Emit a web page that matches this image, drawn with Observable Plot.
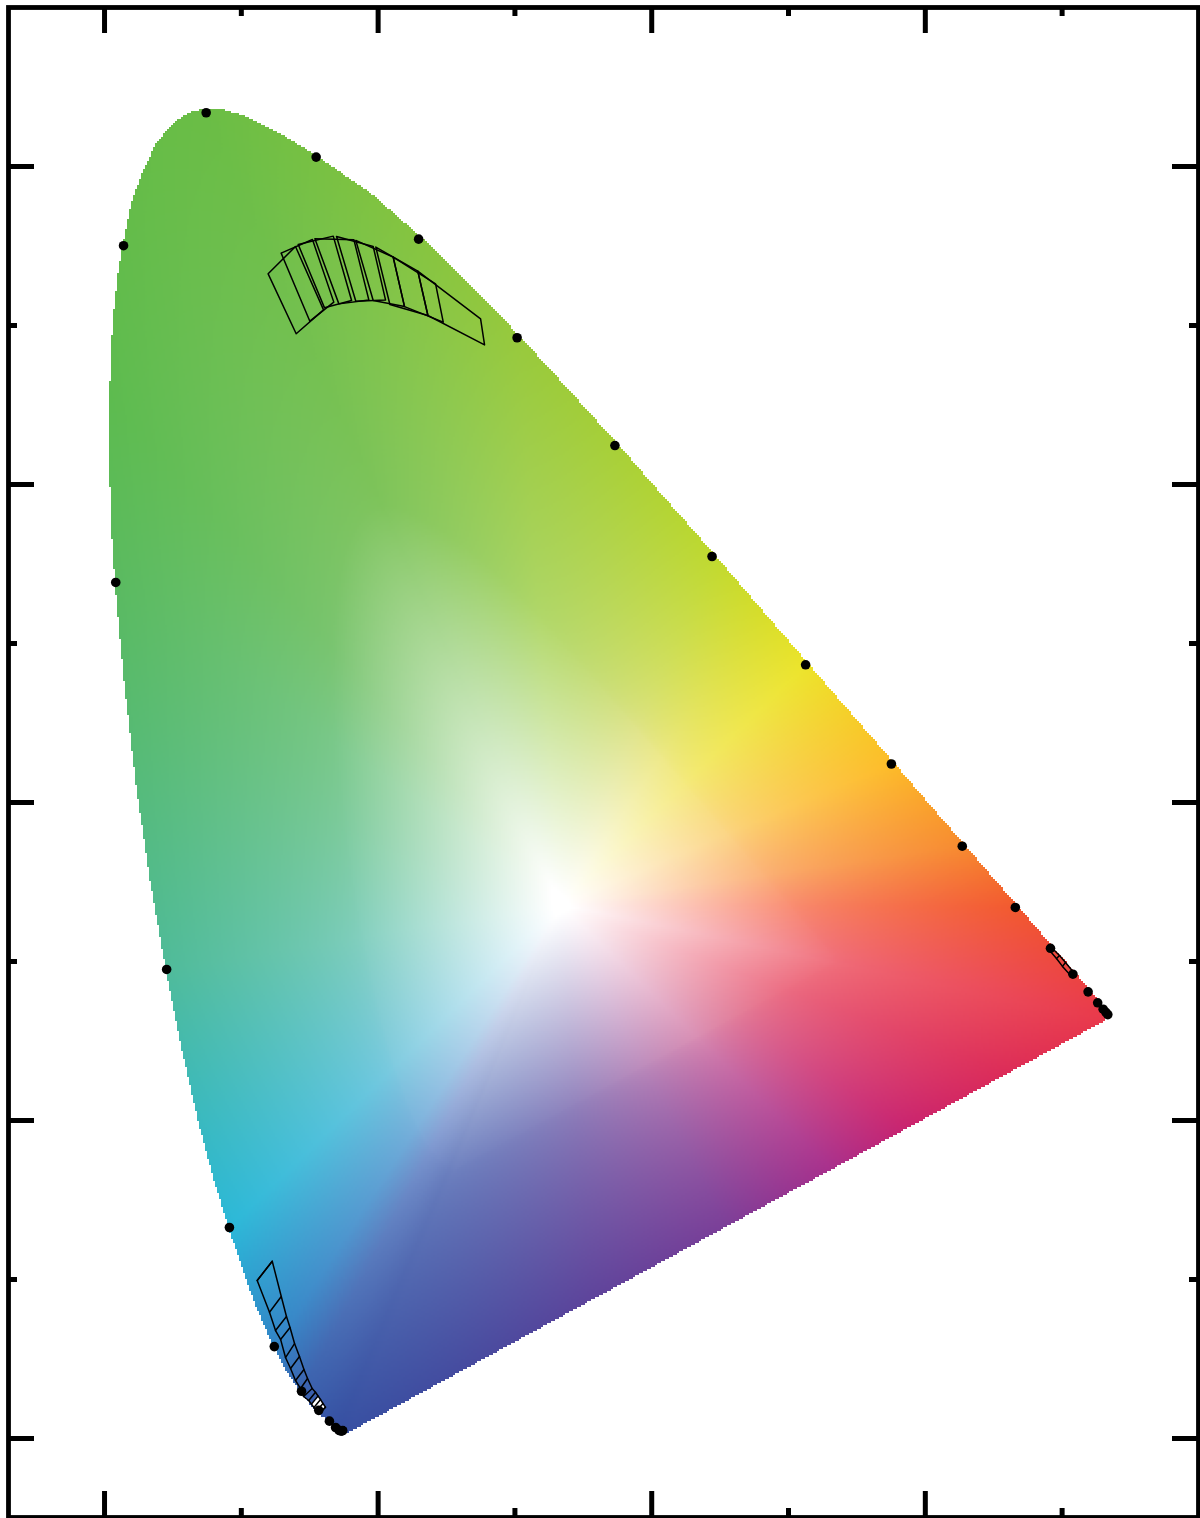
<!DOCTYPE html>
<html><head><meta charset="utf-8">
<style>html,body{margin:0;padding:0;background:#fff}svg{display:block}</style>
<script src="https://cdn.jsdelivr.net/npm/d3@7"></script>
<script src="https://cdn.jsdelivr.net/npm/@observablehq/plot@0.6"></script>
</head><body><div id="chart"></div>
<script>
// Spectral locus (5 nm steps 380-680)
const locusX = [.1741,.1740,.1738,.1736,.1733,.1730,.1726,.1721,.1714,.1703,.1689,.1669,.1644,.1611,.1566,.1510,.1440,.1355,.1241,.1096,.0913,.0687,.0454,.0235,.0082,.0039,.0139,.0389,.0743,.1142,.1547,.1929,.2296,.2658,.3016,.3373,.3731,.4087,.4441,.4788,.5125,.5448,.5752,.6029,.6270,.6482,.6658,.6801,.6915,.7006,.7079,.7140,.7190,.7230,.7260,.7283,.7300,.7311,.7320,.7327,.7334];
const locusY = [.0050,.0050,.0049,.0049,.0048,.0048,.0048,.0048,.0051,.0058,.0069,.0086,.0109,.0138,.0177,.0227,.0297,.0399,.0578,.0868,.1327,.2007,.2950,.4127,.5384,.6548,.7502,.8120,.8338,.8262,.8059,.7816,.7543,.7243,.6923,.6589,.6245,.5896,.5547,.5202,.4866,.4544,.4242,.3965,.3725,.3514,.3340,.3197,.3083,.2993,.2920,.2859,.2809,.2770,.2740,.2717,.2700,.2689,.2680,.2673,.2666];

// Outline of the coloured area
const areaX = [.1780,.1700,.1620,.1540,.1440,.1350,.1235,.1090,.0905,.0790,.0680,.0560,.0445,.0330,.0225,.0140,.0072,.0040,.0029,.0040,.0065,.0097,.0137,.0190,.0276,.0373,.0507,.0629,.0775,.0870,.1020,.1262,.1540,.1945,.2310,.2670,.3030,.3385,.3745,.4100,.4455,.4800,.5135,.5458,.5762,.6038,.6280,.6492,.6668,.6810,.6925,.7016,.7090,.7150,.7200,.7240,.7270,.7300,.7316];
const areaY = [.0035,.0060,.0115,.0165,.0280,.0385,.0565,.0855,.1315,.1640,.1995,.2450,.2940,.3500,.4115,.4750,.5375,.5800,.6340,.6800,.7100,.7346,.7535,.7767,.7964,.8143,.8279,.8342,.8365,.8355,.8315,.8215,.8068,.7828,.7553,.7252,.6932,.6598,.6255,.5905,.5557,.5212,.4876,.4554,.4252,.3975,.3735,.3524,.3350,.3207,.3093,.3003,.2930,.2869,.2819,.2780,.2750,.2700,.2629];

// Markers, every 10 nm along the locus (index step 2 of the locus table)
const markerIndex = d3.range(0, locusX.length, 2);

// Axis ticks
const xMajor = [0,.2,.4,.6], xMinor = [.1,.3,.5,.7];
const yMajor = [0,.2,.4,.6,.8], yMinor = [.1,.3,.5,.7];
const xMin = -0.0702, xMax = 0.7997, yMin = -0.0497, yMax = 0.9;

// Upper green patch: the top and bottom end of each cross edge
const edgeTopX = [.1196,.1291,.1396,.1416,.1520,.1538,.1672,.1696,.1823,.1837,.1964,.1983,.2110,.2290,.2420,.2749];
const edgeTopY = [.7325,.7455,.7497,.7509,.7541,.7545,.7562,.7560,.7539,.7535,.7497,.7493,.7430,.7342,.7262,.7042];
const edgeBotX = [.1401,.1501,.1601,.1608,.1676,.1713,.1806,.1837,.1932,.1964,.2054,.2086,.2193,.2364,.2476,.2778];
const edgeBotY = [.6948,.7027,.7098,.7111,.7147,.7136,.7157,.7153,.7161,.7157,.7161,.7132,.7119,.7063,.7021,.6878];
const greenFrom = [0,1,3,5,7,9,11,12,13];
const greenTo   = [2,4,6,8,10,12,13,14,15];

// Lower blue strip: rungs between its two long sides
const blueLX = [.1116,.1206,.1250,.1287,.1323,.1360,.1396,.1433,.1455,.1493,.1513,.1531,.1550,.1567];
const blueLY = [.0994,.0794,.0679,.0623,.0509,.0440,.0365,.0314,.0264,.0239,.0216,.0195,.0173,.0155];
const blueRX = [.1226,.1292,.1330,.1356,.1389,.1425,.1458,.1484,.1518,.1542,.1561,.1579,.1597,.1615];
const blueRY = [.1115,.0893,.0767,.0698,.0597,.0516,.0434,.0377,.0314,.0291,.0267,.0245,.0220,.0197];
const blueTipX = [.1513,.1561,.1615,.1567,.1513];
const blueTipY = [.0216,.0267,.0197,.0155,.0216];

// Red strip
const redLX = [.6915,.6959,.7003,.7069];
const redLY = [.3063,.3019,.2969,.2906];
const redRX = [.6937,.6981,.7025,.7091];
const redRY = [.3075,.3038,.2994,.2925];

// Colour field: white centre, then colours read along rays toward the boundary
const whiteX = .3333, whiteY = .3352;
const rayX = [.7334,.6658,.6270,.5752,.5125,.4788,.4441,.3016,.0743,.0039,.0082,.0454,.0913,.1241,.1440,.1700,.3550,.4500,.5300,.5800,.6600];
const rayY = [.2666,.3340,.3725,.4242,.4866,.5202,.5547,.6923,.8338,.6548,.5384,.2950,.1327,.0578,.0297,.0050,.0870,.1370,.1700,.1990,.2300];
const rayOuter = ["#e93a4a","#f2592e","#f78b2f","#fdbc28","#ece42a","#d5dd2a","#bfd92f","#97c93c","#6abd45","#5dbb4f","#5aba60","#4fbb9a","#2bb8d8","#3184c6","#3a62ae","#3650a2","#5e449b","#7b3f98","#a8308c","#c9246f","#dc2c58"];
const rayMiddle = ["#f0707c","#f98f75","#fbb37a","#fbd585","#f5ea80","#eee98a","#e0e48a","#b2d86c","#7fc45c","#7bc572","#7cc98c","#85d0c0","#80cbe0","#7cb2dc","#7e98d0","#6e82c0","#9484bd","#bd8cbc","#d98fb4","#e2809c","#ec6f84"];

const toRGB = c => { const o = d3.rgb(c); return [o.r, o.g, o.b]; };
const rays = rayX.map((x, i) => ({
  a: Math.atan2(rayY[i] - whiteY, x - whiteX),
  o: toRGB(rayOuter[i]),
  m: toRGB(rayMiddle[i])
})).sort((p, q) => p.a - q.a);

const poly = areaX.map((x, i) => [x, areaY[i]]);
const BINS = 2880;
const radius = new Float64Array(BINS + 1), outer = [], middle = [];
for (let b = 0; b <= BINS; ++b) {
  const a = -Math.PI + 2 * Math.PI * b / BINS;
  const dx = Math.cos(a), dy = Math.sin(a);
  let best = 0;
  for (let i = 0; i < poly.length; ++i) {
    const [x1, y1] = poly[i], [x2, y2] = poly[(i + 1) % poly.length];
    const ex = x2 - x1, ey = y2 - y1, fx = x1 - whiteX, fy = y1 - whiteY;
    const den = dx * ey - dy * ex;
    if (Math.abs(den) < 1e-12) continue;
    const t = (fx * ey - fy * ex) / den, u = (fx * dy - fy * dx) / den;
    if (t > 0 && u >= 0 && u <= 1 && t > best) best = t;
  }
  radius[b] = best;
  let j = rays.findIndex(r => r.a >= a);
  let p, q, f;
  if (j <= 0) {
    p = rays[rays.length - 1]; q = rays[0];
    const pa = p.a - 2 * Math.PI, aa = a > q.a ? a - 2 * Math.PI : a;
    f = (aa - pa) / (q.a - pa);
  } else {
    p = rays[j - 1]; q = rays[j]; f = (a - p.a) / (q.a - p.a);
  }
  outer.push(p.o.map((v, k) => v + (q.o[k] - v) * f));
  middle.push(p.m.map((v, k) => v + (q.m[k] - v) * f));
}
function fieldColor(x, y) {
  if (!d3.polygonContains(poly, [x, y])) return null;
  const dx = x - whiteX, dy = y - whiteY;
  const a = Math.atan2(dy, dx);
  const b = Math.min(BINS, Math.max(0, Math.round((a + Math.PI) / (2 * Math.PI) * BINS)));
  const t = Math.min(1, Math.hypot(dx, dy) / radius[b]);
  const O = outer[b], M = middle[b];
  let r, g, c;
  if (t < 0.5) {
    const s = Math.pow(Math.max(0, t - 0.02) / 0.48, 1.0);
    r = 255 + (M[0] - 255) * s; g = 255 + (M[1] - 255) * s; c = 255 + (M[2] - 255) * s;
  } else {
    const s = Math.pow((t - 0.5) / 0.5, 0.7);
    r = M[0] + (O[0] - M[0]) * s; g = M[1] + (O[1] - M[1]) * s; c = M[2] + (O[2] - M[2]) * s;
  }
  return `rgb(${Math.round(r)},${Math.round(g)},${Math.round(c)})`;
}

// Line rows
const patchRows = [];
greenFrom.forEach((a, k) => {
  const b = greenTo[k];
  [[edgeTopX[a],edgeTopY[a]],[edgeTopX[b],edgeTopY[b]],[edgeBotX[b],edgeBotY[b]],[edgeBotX[a],edgeBotY[a]],[edgeTopX[a],edgeTopY[a]]]
    .forEach(([x,y]) => patchRows.push({x, y, id:"g"+k}));
});
const outlineBlue = [
  ...blueLX.map((x,i)=>({x,y:blueLY[i]})),
  ...blueRX.map((x,i)=>({x,y:blueRY[i]})).reverse()
];
outlineBlue.push(outlineBlue[0]);
outlineBlue.forEach(d => patchRows.push({...d, id:"blue"}));
blueLX.forEach((x,i) => { patchRows.push({x, y:blueLY[i], id:"br"+i}); patchRows.push({x:blueRX[i], y:blueRY[i], id:"br"+i}); });
const outlineRed = [
  ...redLX.map((x,i)=>({x,y:redLY[i]})),
  ...redRX.map((x,i)=>({x,y:redRY[i]})).reverse()
];
outlineRed.push(outlineRed[0]);
outlineRed.forEach(d => patchRows.push({...d, id:"red"}));
redLX.forEach((x,i) => { patchRows.push({x, y:redLY[i], id:"rr"+i}); patchRows.push({x:redRX[i], y:redRY[i], id:"rr"+i}); });
const tipRows = blueTipX.map((x,i) => ({x, y: blueTipY[i]}));

const markers = markerIndex.map(i => ({x: locusX[i], y: locusY[i]}));
const majX = 26 / 1368, majY = 26 / 1590;   // tick lengths in data units
const minX = 9 / 1368, minY = 9 / 1590;

const chart = Plot.plot({
  width: 1200, height: 1518,
  marginLeft: 8, marginRight: 2, marginTop: 7, marginBottom: 1,
  style: {background: "white", overflow: "hidden"},
  x: {domain: [xMin, xMax], axis: null},
  y: {domain: [yMin, yMax], axis: null},
  marks: [
    Plot.raster({fill: fieldColor, x1: xMin, x2: xMax, y1: yMin, y2: yMax, pixelSize: 2, imageRendering: "pixelated"}),
    Plot.line(tipRows, {x: "x", y: "y", fill: "white", stroke: "none"}),
    Plot.line(patchRows, {x: "x", y: "y", z: "id", stroke: "black", strokeWidth: 1.5, curve: "linear"}),
    Plot.dot(markers, {x: "x", y: "y", r: 4.8, fill: "black"}),
    Plot.ruleX(xMajor, {y1: yMax, y2: yMax - majY, stroke: "black", strokeWidth: 5}),
    Plot.ruleX(xMajor, {y1: yMin, y2: yMin + majY, stroke: "black", strokeWidth: 5}),
    Plot.ruleX(xMinor, {y1: yMax, y2: yMax - minY, stroke: "black", strokeWidth: 5}),
    Plot.ruleX(xMinor, {y1: yMin, y2: yMin + minY, stroke: "black", strokeWidth: 5}),
    Plot.ruleY(yMajor, {x1: xMin, x2: xMin + majX, stroke: "black", strokeWidth: 5}),
    Plot.ruleY(yMajor, {x1: xMax, x2: xMax - majX, stroke: "black", strokeWidth: 5}),
    Plot.ruleY(yMinor, {x1: xMin, x2: xMin + minX, stroke: "black", strokeWidth: 5}),
    Plot.ruleY(yMinor, {x1: xMax, x2: xMax - minX, stroke: "black", strokeWidth: 5}),
    Plot.frame({stroke: "black", strokeWidth: 4.8})
  ]
});
document.getElementById("chart").append(chart);
</script></body></html>
